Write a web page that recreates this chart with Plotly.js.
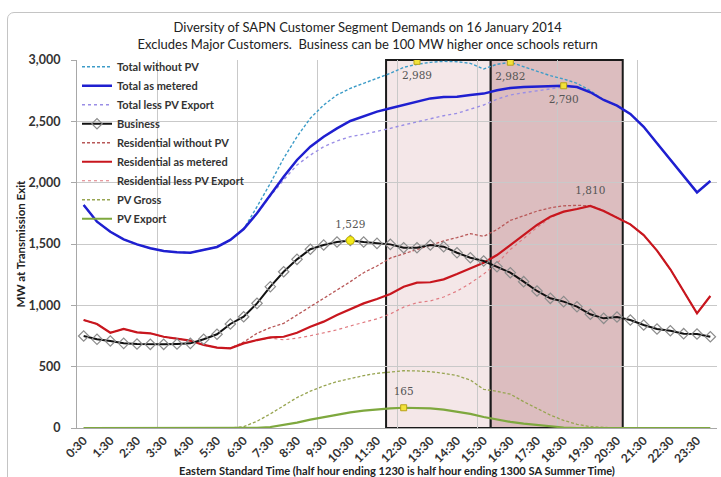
<!DOCTYPE html>
<html>
<head>
<meta charset="utf-8">
<script src="https://cdn.plot.ly/plotly-3.0.1.min.js"></script>
<style>
  html, body { margin: 0; padding: 0; background: #ffffff; }
  #wrap { position: relative; width: 721px; height: 477px; overflow: hidden; }
  #chart { width: 721px; height: 477px; }
  #frame { position: absolute; left: 7px; top: 12px; width: 740px; height: 500px;
           border: 1px solid #c4c4c4; border-radius: 7px; pointer-events: none; }
</style>
</head>
<body>
<div id="wrap">
  <div id="chart"></div>
  <div id="frame"></div>
</div>
<script>
// Half-hour slots (half hour ending)
const slots = ["0:30","1:00","1:30","2:00","2:30","3:00","3:30","4:00","4:30","5:00","5:30","6:00",
               "6:30","7:00","7:30","8:00","8:30","9:00","9:30","10:00","10:30","11:00","11:30","12:00",
               "12:30","13:00","13:30","14:00","14:30","15:00","15:30","16:00","16:30","17:00","17:30","18:00",
               "18:30","19:00","19:30","20:00","20:30","21:00","21:30","22:00","22:30","23:00","23:30","24:00"];
const tickLabels = ["0:30","1:30","2:30","3:30","4:30","5:30","6:30","7:30","8:30","9:30","10:30","11:30",
                    "12:30","13:30","14:30","15:30","16:30","17:30","18:30","19:30","20:30","21:30","22:30","23:30"];

const totalWithoutPV = [1818,1682,1600,1538,1497,1465,1443,1432,1429,1451,1476,1533,
                        1622,1804,1995,2199,2375,2525,2633,2715,2769,2810,2851,2891,
                        2940,2965,2981,2989,2986,2973,2927,2965,2982,2946,2910,2872,
                        2845,2810,2750,2674,2628,2560,2456,2321,2185,2049,1921,2013];
const totalAsMetered = [1818,1682,1600,1538,1497,1465,1443,1432,1429,1451,1476,1533,
                        1622,1750,1899,2049,2185,2293,2375,2443,2503,2538,2579,2606,
                        2635,2660,2687,2698,2701,2715,2726,2753,2772,2780,2782,2788,
                        2790,2780,2737,2674,2628,2560,2456,2321,2185,2049,1921,2013];
const totalLessPVExport = [1818,1682,1600,1538,1497,1465,1443,1432,1429,1451,1476,1533,
                           1622,1748,1891,2022,2144,2225,2293,2340,2375,2394,2416,2443,
                           2470,2497,2525,2546,2565,2600,2633,2680,2715,2733,2747,2764,
                           2780,2780,2737,2674,2628,2560,2456,2321,2185,2049,1921,2013];
const business = [750,723,709,690,685,682,682,685,690,723,764,848,
                  907,1016,1152,1274,1375,1457,1492,1516,1529,1516,1505,1497,
                  1470,1470,1492,1478,1429,1388,1361,1315,1266,1193,1117,1057,
                  1030,989,927,894,905,880,840,807,793,769,766,744];
const residentialWithoutPV = [880,848,777,807,780,772,744,731,712,677,655,650,
                              700,772,818,853,921,984,1057,1125,1193,1266,1321,1385,
                              1420,1455,1490,1525,1552,1584,1562,1618,1692,1730,1768,1795,
                              1811,1815,1812,1772,1714,1660,1573,1446,1294,1119,935,1076];
const residentialAsMetered = [880,848,777,807,780,772,744,731,712,677,655,650,
                              690,717,739,744,777,826,867,921,970,1016,1052,1092,
                              1152,1185,1188,1212,1255,1302,1348,1410,1492,1573,1655,1723,
                              1764,1785,1810,1769,1714,1660,1573,1446,1294,1119,935,1076];
const residentialLessPVExport = [880,848,777,807,780,772,744,731,712,677,655,650,
                                 690,717,733,719,732,752,775,800,832,862,890,930,
                                 985,1022,1036,1068,1116,1180,1255,1342,1455,1545,1635,1712,
                                 1762,1785,1810,1769,1714,1660,1573,1446,1294,1119,935,1076];
const pvGross = [0,0,0,0,0,0,0,0,0,0,0,0,
                 11,55,115,185,248,300,343,378,405,427,446,459,
                 467,465,459,446,427,391,315,299,276,215,160,105,
                 62,30,11,3,0,0,0,0,0,0,0,0];
const pvExport = [0,0,0,0,0,0,0,0,0,0,0,0,
                  0,2,8,25,44,68,90,110,128,141,152,160,
                  165,165,160,150,135,115,90,68,50,36,24,12,
                  4,0,0,0,0,0,0,0,0,0,0,0];

// Labelled peaks
const peakSlots  = ["13:00","16:30","18:30","19:30","10:30","12:30"];
const peakValues = [2989, 2982, 2790, 1810, 1529, 165];
const peakLabels = ["2,989","2,982","2,790","1,810","1,529","165"];

const xi = slots.map((s, i) => i);
const tickVals = tickLabels.map(t => slots.indexOf(t));

const FONT = "Lato, 'Open Sans', sans-serif";
const NARROW = "'Liberation Sans Narrow', Lato, sans-serif";

function line(name, rank, y, color, width, dash, extra) {
  return Object.assign({
    type: 'scatter', mode: 'lines', name: name, legendrank: rank, x: xi, y: y,
    line: { color: color, width: width, dash: dash || 'solid' },
    hoverinfo: 'skip'
  }, extra || {});
}

// drawing order: thin dashed/dotted first, solids on top; legend order kept by legendrank
const traces = [
  line('Total less PV Export', 3, totalLessPVExport, '#9a8ee6', 1.4, 'dot'),
  line('Total without PV', 1, totalWithoutPV, '#3d9cc8', 1.4, '3px,2px'),
  line('Residential less PV Export', 7, residentialLessPVExport, '#e07a80', 1.2, 'dot'),
  line('Residential without PV', 5, residentialWithoutPV, '#b85858', 1.3, '3px,2px'),
  line('PV Gross', 8, pvGross, '#98a552', 1.3, '3px,2px'),
  line('Total as metered', 2, totalAsMetered, '#1f1fd0', 2.5),
  line('Residential as metered', 6, residentialAsMetered, '#c8161e', 2.2),
  line('PV Export', 9, pvExport, '#7ea83e', 2.2),
  line('Business', 4, business, '#111111', 2, 'solid',
       { mode: 'lines+markers', marker: { symbol: 'diamond-open', size: 8, color: '#8c8c8c', line: { width: 1.2, color: '#8c8c8c' } } })
];

// peak markers and labels
const pIdx = peakSlots.map(s => slots.indexOf(s));
const sq = [0,1,2,5];
traces.push({
  type: 'scatter', mode: 'markers', showlegend: false, hoverinfo: 'skip',
  x: sq.map(k => pIdx[k]), y: sq.map(k => peakValues[k]),
  marker: { symbol: 'square', size: 6, color: '#f2e23a', line: { color: '#b9a21a', width: 1 } }
});
traces.push({
  type: 'scatter', mode: 'markers', showlegend: false, hoverinfo: 'skip',
  x: [pIdx[4]], y: [peakValues[4]],
  marker: { symbol: 'circle', size: 8, color: '#f5ec1c', line: { color: '#c8b800', width: 1 } }
});
const below = [0,1,2], above = [3,4,5];
const labelFont = { family: "'DejaVu Serif', serif", size: 10.5, color: '#555555' };
traces.push({
  type: 'scatter', mode: 'markers+text', showlegend: false, hoverinfo: 'skip',
  x: below.map(k => pIdx[k]), y: below.map(k => peakValues[k]), text: below.map(k => peakLabels[k]),
  textposition: 'bottom center', textfont: labelFont,
  marker: { size: 14, opacity: 0 }
});
traces.push({
  type: 'scatter', mode: 'markers+text', showlegend: false, hoverinfo: 'skip',
  x: above.map(k => pIdx[k]), y: above.map(k => peakValues[k]), text: above.map(k => peakLabels[k]),
  textposition: 'top center', textfont: labelFont,
  marker: { size: 14, opacity: 0 }
});

const layout = {
  width: 721, height: 477,
  margin: { l: 77, r: 4, t: 60, b: 49 },
  paper_bgcolor: '#ffffff', plot_bgcolor: '#ffffff',
  showlegend: true,
  title: {
    text: 'Diversity of SAPN Customer Segment Demands on 16 January 2014<br>Excludes Major Customers.  Business can be 100 MW higher once schools return',
    font: { family: FONT, size: 13, color: '#222222' },
    x: 0.51, xanchor: 'center', y: 0.932, yanchor: 'top'
  },
  legend: {
    x: 0.0, y: 1.021, xanchor: 'left', yanchor: 'top', traceorder: 'normal',
    bgcolor: 'rgba(255,255,255,0)', borderwidth: 0,
    font: { family: NARROW, size: 11, color: '#333333', weight: 'bold' },
    tracegroupgap: 0
  },
  xaxis: {
    range: [-0.5, 47.5], tickmode: 'array', tickvals: tickVals, ticktext: tickLabels,
    tickangle: -45, showgrid: false, zeroline: false,
    showline: true, linecolor: '#a8a8a8', linewidth: 1, ticks: '',
    tickfont: { family: NARROW, size: 12, color: '#333333', weight: 'bold' },
    minor: { tickmode: 'linear', tick0: -0.5, dtick: 6, showgrid: true, gridcolor: '#c9c9c9', gridwidth: 1, ticks: '' },
    title: { text: 'Eastern Standard Time (half hour ending 1230 is half hour ending 1300 SA Summer Time)',
             font: { family: NARROW, size: 11.1, color: '#222222', weight: 'bold' }, standoff: 7 },
    automargin: false
  },
  yaxis: {
    range: [0, 3000], tickmode: 'linear', tick0: 0, dtick: 500, tickformat: ',d',
    showgrid: true, gridcolor: '#c9c9c9', gridwidth: 1, zeroline: false,
    showline: true, linecolor: '#a8a8a8', linewidth: 1,
    ticks: 'outside', ticklen: 5, tickcolor: '#a8a8a8', ticklabelstandoff: 8,
    tickfont: { family: NARROW, size: 12.5, color: '#333333', weight: 'bold' },
    title: { text: 'MW at Transmission Exit', font: { family: NARROW, size: 11.5, color: '#222222', weight: 'bold' }, standoff: 0 },
    automargin: false
  },
  shapes: [
    { type: 'rect', layer: 'below', xref: 'x', yref: 'paper', x0: 22.68, x1: 30.53, y0: 0, y1: 1,
      fillcolor: '#f4e7e8', line: { color: '#1a1a1a', width: 2 } },
    { type: 'rect', layer: 'below', xref: 'x', yref: 'paper', x0: 30.53, x1: 40.43, y0: 0, y1: 1,
      fillcolor: '#dcbdbf', line: { color: '#1a1a1a', width: 2 } }
  ]
};

Plotly.newPlot('chart', traces, layout, { displayModeBar: false, staticPlot: true });
</script>
</body>
</html>
